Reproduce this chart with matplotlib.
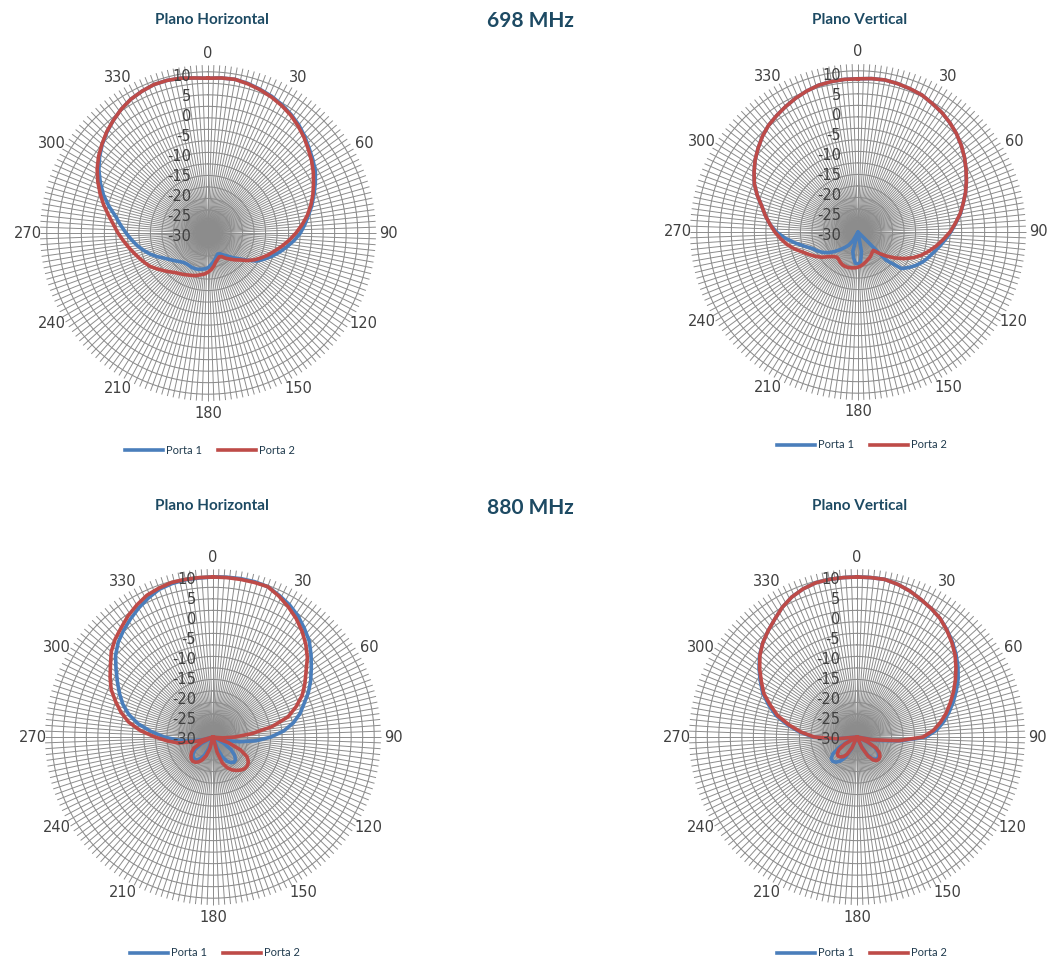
import numpy as np
import matplotlib
matplotlib.use('Agg')
import matplotlib.pyplot as plt
from matplotlib.transforms import offset_copy

# azimuth of every sample, degrees clockwise from north
ANGLES = np.arange(0, 360, 5)

# 698 MHz, horizontal plane (dB)
h698_porta1 = [8.7, 8.9, 9.0, 8.7, 8.2, 7.7, 7.0, 6.2, 5.3, 4.2, 3.0, 2.0,
               1.0, -0.4, -1.8, -3.1, -4.5, -5.7, -6.9, -8.4, -10.0, -11.5, -13.0, -14.5,
               -16.0, -18.2, -20.0, -21.3, -22.5, -23.3, -24.0, -24.2, -23.8, -23.2, -22.6, -22.0,
               -21.3, -21.0, -20.8, -20.6, -20.5, -20.5, -20.6, -20.6, -20.4, -19.9, -19.2, -18.4,
               -17.4, -16.0, -14.6, -13.3, -12.0, -10.8, -9.5, -8.1, -6.6, -4.4, -2.2, -0.3,
               1.5, 3.1, 4.5, 5.7, 6.8, 7.8, 8.6, 9.1, 9.5, 9.5, 9.3, 8.9]
h698_porta2 = [8.7, 8.9, 9.0, 8.6, 8.1, 7.5, 6.8, 6.0, 5.0, 3.9, 2.7, 1.6,
               0.4, -0.9, -2.1, -3.4, -4.8, -6.4, -8.0, -9.6, -11.2, -12.7, -14.0, -15.3,
               -16.6, -18.0, -19.5, -20.5, -21.5, -22.3, -23.2, -23.4, -23.0, -22.5, -21.6, -20.8,
               -20.2, -19.7, -19.4, -19.0, -18.7, -18.4, -18.0, -17.6, -17.1, -16.3, -15.4, -14.4,
               -13.3, -12.5, -11.7, -10.8, -9.8, -8.7, -7.5, -6.3, -4.8, -3.0, -1.3, 0.4,
               2.0, 3.4, 4.6, 5.8, 6.8, 7.8, 8.6, 9.1, 9.5, 9.5, 9.3, 8.9]

# 698 MHz, vertical plane (dB)
v698_porta1 = [8.3, 8.5, 8.6, 8.4, 8.1, 7.8, 7.1, 6.5, 5.7, 4.8, 3.7, 2.5,
               1.2, -0.1, -1.4, -2.8, -4.0, -5.5, -6.8, -8.1, -9.3, -10.4, -11.3, -12.2,
               -13.3, -14.5, -15.8, -20.0, -30.0, -30.0, -30.0, -30.0, -30.0, -30.0, -25.0, -22.5,
               -22.0, -22.2, -23.5, -25.0, -30.0, -30.0, -27.5, -26.0, -25.0, -23.8, -22.4, -21.0,
               -19.8, -18.8, -17.9, -16.2, -14.1, -11.8, -9.6, -7.9, -6.5, -5.1, -3.2, -1.4,
               0.0, 1.4, 2.6, 3.8, 4.8, 5.5, 6.2, 6.9, 7.5, 8.0, 8.2, 8.3]
v698_porta2 = [8.3, 8.5, 8.6, 8.4, 8.1, 7.8, 7.1, 6.5, 5.7, 4.8, 3.7, 2.5,
               1.2, -0.1, -1.4, -2.8, -4.1, -5.6, -7.0, -8.6, -10.1, -11.6, -13.1, -14.8,
               -16.7, -18.7, -20.6, -22.4, -24.0, -23.8, -23.4, -23.0, -22.7, -22.3, -21.9, -21.5,
               -21.2, -21.0, -20.9, -20.8, -20.8, -20.9, -21.2, -21.6, -21.8, -21.3, -20.4, -19.0,
               -17.8, -16.6, -15.3, -13.6, -12.0, -10.6, -9.2, -7.9, -6.5, -5.1, -3.2, -1.4,
               0.0, 1.4, 2.6, 3.8, 4.8, 5.5, 6.2, 6.9, 7.5, 8.0, 8.2, 8.3]

# 880 MHz, horizontal plane (dB)
h880_porta1 = [10.0, 10.1, 10.2, 10.2, 10.0, 9.1, 8.2, 7.0, 5.5, 4.0, 2.0, 0.0,
               -1.8, -3.7, -5.8, -7.5, -9.6, -12.2, -15.5, -19.2, -23.2, -26.5, -30.0, -30.0,
               -27.0, -24.5, -23.0, -22.0, -21.8, -22.2, -23.0, -24.5, -27.0, -30.0, -30.0, -30.0,
               -30.0, -30.0, -30.0, -30.0, -27.0, -25.0, -23.8, -23.0, -22.8, -22.9, -23.5, -24.5,
               -26.5, -30.0, -30.0, -27.5, -24.5, -21.2, -17.8, -14.5, -11.0, -8.2, -6.0, -4.2,
               -2.4, -0.4, 1.8, 3.5, 4.8, 6.0, 7.2, 8.3, 9.3, 9.7, 9.9, 9.9]
h880_porta2 = [10.0, 10.0, 10.0, 10.0, 10.0, 8.9, 7.6, 6.2, 4.6, 2.8, 0.8, -1.6,
               -3.5, -5.4, -7.9, -10.6, -15.0, -20.2, -24.5, -27.5, -29.5, -30.0, -26.0, -22.5,
               -20.2, -19.2, -18.8, -18.8, -19.2, -19.8, -20.5, -21.5, -23.0, -26.0, -30.0, -30.0,
               -30.0, -30.0, -30.0, -27.0, -25.0, -23.7, -22.8, -22.3, -22.1, -22.3, -22.8, -23.5,
               -24.5, -27.0, -30.0, -26.0, -21.3, -18.6, -15.5, -11.8, -8.6, -6.2, -4.1, -1.9,
               -0.3, 1.3, 3.2, 4.6, 5.7, 7.0, 8.1, 9.1, 9.6, 10.0, 10.0, 10.0]

# 880 MHz, vertical plane (dB)
v880_porta1 = [10.0, 10.0, 10.0, 9.5, 8.8, 7.9, 7.1, 6.2, 5.0, 3.7, 2.3, 0.8,
               -0.8, -2.6, -4.4, -6.2, -8.0, -10.0, -12.8, -19.0, -25.0, -30.0, -30.0, -27.5,
               -25.0, -23.6, -22.9, -22.6, -22.7, -23.4, -25.0, -27.5, -30.0, -30.0, -30.0, -30.0,
               -30.0, -30.0, -30.0, -30.0, -30.0, -26.5, -24.0, -22.6, -21.8, -21.4, -21.6, -22.6,
               -25.0, -28.0, -30.0, -30.0, -30.0, -24.6, -19.0, -15.6, -12.3, -9.0, -6.5, -4.0,
               -2.1, -0.1, 1.8, 3.3, 4.6, 5.9, 7.4, 8.6, 9.4, 9.9, 10.0, 10.0]
v880_porta2 = [10.0, 10.0, 10.0, 9.5, 8.8, 7.9, 7.1, 6.2, 4.9, 3.5, 2.0, 0.2,
               -1.6, -3.4, -5.2, -6.9, -8.8, -10.8, -13.5, -19.5, -26.0, -30.0, -30.0, -27.0,
               -24.5, -23.2, -22.5, -22.2, -22.3, -23.0, -24.5, -27.0, -30.0, -30.0, -30.0, -30.0,
               -30.0, -30.0, -30.0, -30.0, -30.0, -27.0, -25.0, -24.0, -23.5, -23.3, -23.6, -24.5,
               -26.5, -30.0, -30.0, -30.0, -30.0, -25.0, -19.3, -16.0, -12.8, -9.5, -7.0, -4.3,
               -2.4, -0.3, 1.7, 3.3, 4.6, 5.9, 7.4, 8.6, 9.4, 9.9, 10.0, 10.0]

ANGLE_LABELS = [0, 30, 60, 90, 120, 150, 180, 210, 240, 270, 300, 330]
VALUE_LABELS = [10, 5, 0, -5, -10, -15, -20, -25, -30]
SERIES = ['Porta 1', 'Porta 2']

W, H = 1050, 961
PX_PER_DB = 4.0
R_MIN, R_MAX, R_LIM = -30, 10, 12.5
N_RINGS = 14
BLUE = '#4a7ebb'
RED = '#be4b48'
GRID = '#8c8c8c'
TITLE_C = '#1d4a63'

fig = plt.figure(figsize=(W / 100, H / 100), dpi=100)


def radar(cx, cy, porta1, porta2):
    half = (R_LIM - R_MIN) * PX_PER_DB
    ax = fig.add_axes([(cx - half) / W, 1 - (cy + half) / H, 2 * half / W, 2 * half / H],
                      projection='polar')
    ax.set_theta_zero_location('N')
    ax.set_theta_direction(-1)
    ax.set_ylim(R_MIN, R_LIM)
    ax.grid(False)
    ax.set_xticks([])
    ax.set_yticks([])
    ax.spines['polar'].set_visible(False)
    ax.patch.set_alpha(0)

    spokes = np.deg2rad(np.arange(0, 360, 2))
    ax.vlines(spokes, R_MIN, R_MAX + 2.0, color=GRID, lw=0.7, zorder=1)
    ring_t = np.append(spokes, spokes[0])
    for v in np.linspace(R_MIN, R_MAX + 0.3, N_RINGS + 1)[1:]:
        ax.plot(ring_t, np.full(ring_t.size, v), color=GRID, lw=0.75, zorder=1)

    t = np.deg2rad(np.append(ANGLES, ANGLES[0]))
    l1, = ax.plot(t, np.append(porta1, porta1[0]), color=BLUE, lw=2.6, zorder=3,
                  label=SERIES[0], solid_joinstyle='round')
    l2, = ax.plot(t, np.append(porta2, porta2[0]), color=RED, lw=2.6, zorder=4,
                  label=SERIES[1], solid_joinstyle='round')

    for a in ANGLE_LABELS:
        ax.text(np.deg2rad(a), R_MIN + 180 / PX_PER_DB, str(a), ha='center', va='center',
                fontsize=10.5, color='#404040', family='DejaVu Sans')
    tr = offset_copy(ax.transData, fig=fig, x=-17, y=-3, units='dots')
    for v in VALUE_LABELS:
        ax.text(0, v, str(v), transform=tr, ha='right', va='center',
                fontsize=10.5, color='#404040', family='DejaVu Sans', zorder=5)
    return l1, l2


def legend(handles, x, y):
    fig.legend(handles, SERIES, loc='center', bbox_to_anchor=(x / W, 1 - y / H), ncol=2,
               frameon=False, handlelength=3.4, handletextpad=0.3, columnspacing=1.4,
               prop={'family': 'Lato', 'size': 8}, labelcolor='#1f3a4d')


def title(text, x, y, size=11):
    fig.text(x / W, 1 - y / H, text, ha='center', va='center', fontsize=size,
             fontweight='bold', color=TITLE_C, family='Lato')


hs = radar(208, 233, h698_porta1, h698_porta2)
legend(hs, 210, 450)
hs = radar(858, 232, v698_porta1, v698_porta2)
legend(hs, 862, 445)
hs = radar(213, 737, h880_porta1, h880_porta2)
legend(hs, 215, 953)
hs = radar(857, 737, v880_porta1, v880_porta2)
legend(hs, 862, 953)

title('Plano Horizontal', 212, 20)
title('698 MHz', 530, 21, 15)
title('Plano Vertical', 860, 20)
title('Plano Horizontal', 212, 506)
title('880 MHz', 530, 508, 15)
title('Plano Vertical', 860, 506)

fig.savefig('out.png', dpi=100)
